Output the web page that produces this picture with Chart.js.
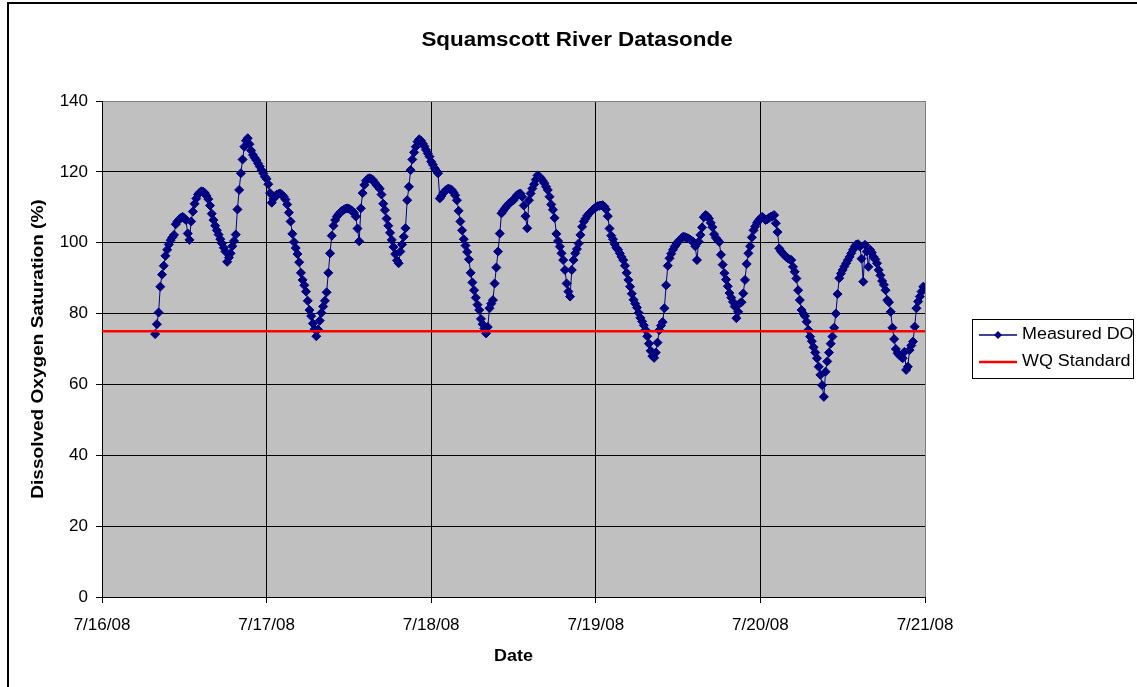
<!DOCTYPE html>
<html>
<head>
<meta charset="utf-8">
<script src="https://cdn.jsdelivr.net/npm/chart.js@4.4.1/dist/chart.umd.min.js"></script>
<style>
  html, body { margin: 0; padding: 0; background: #fff; }
  #wrap { width: 1137px; height: 687px; position: relative; }
</style>
</head>
<body>
<div id="wrap"><canvas id="chart" width="1137" height="687"></canvas></div>
<script>
// Axis labels
const dayLabels = ['7/16/08', '7/17/08', '7/18/08', '7/19/08', '7/20/08', '7/21/08'];
const yTickStep = 20;

// Datasonde logging: first reading 7/16/08 07:45, one reading every 15 minutes
const startHour = 7.75;
const stepHours = 0.25;

// Dissolved oxygen saturation (%) per day
const do0716 = [
  74.2, 77.0, 80.3, 87.6, 91.0, 93.5, 96.3, 98.0, 99.5, 100.7, 101.5, 102.2, 105.2, 106.0, 106.6, 107.0,
  107.3, 106.9, 106.4, 102.6, 100.8, 106.0, 108.8, 111.0, 112.5, 113.6, 114.2, 114.5, 114.4, 114.0, 113.2, 112.3,
  110.5, 108.2, 106.4, 104.8, 103.5, 102.3, 101.0, 99.8, 98.6, 97.5, 94.6, 95.8, 97.0, 99.0, 100.5, 102.3,
  109.4, 114.9, 119.6, 123.5, 127.1, 128.8, 129.5, 127.8, 126.0, 124.8, 124.0, 123.3, 122.4, 121.5, 120.5, 119.6,
  118.6
];
const do0717 = [
  118.0, 116.5, 114.0, 111.3, 112.4, 113.2, 113.6, 113.8, 113.9, 113.5, 113.0, 112.2, 110.8, 108.5, 106.0, 102.5,
  100.2, 98.5, 96.8, 94.5, 91.5, 89.5, 88.0, 86.2, 83.6, 81.0, 79.3, 77.2, 75.6, 73.6, 75.5, 78.0,
  80.2, 82.0, 83.6, 86.0, 91.5, 97.0, 102.0, 104.8, 106.4, 107.4, 108.0, 108.6, 109.0, 109.3, 109.6, 109.7,
  109.6, 109.3, 108.9, 108.4, 107.4, 104.0, 100.4, 109.7, 114.0, 116.3, 117.5, 118.0, 118.2, 118.0, 117.7, 117.0,
  116.3, 115.8, 115.2, 113.6, 111.0, 109.2, 106.8, 104.8, 102.8, 100.8, 98.8, 96.8, 95.0, 94.2, 97.5, 99.5,
  101.7, 104.1, 112.0, 115.8, 120.5, 123.5, 125.5, 127.1, 128.5, 129.2, 128.8, 128.0, 127.2, 126.2, 125.2, 124.3
];
const do0718 = [
  122.9, 122.0, 121.0, 120.3, 119.6, 112.5, 113.2, 114.0, 114.5, 115.0, 115.3, 115.1, 114.9, 114.2, 113.4, 112.0,
  109.0, 106.0, 103.5, 101.0, 99.2, 97.4, 95.3, 91.5, 88.8, 86.6, 84.5, 82.5, 81.0, 78.5, 77.0, 75.8,
  74.4, 76.2, 81.5, 82.8, 83.8, 88.5, 93.0, 97.5, 102.6, 108.3, 109.0, 109.7, 110.3, 110.9, 111.3, 111.7,
  112.0, 112.7, 113.4, 113.7, 113.9, 113.0, 110.5, 107.5, 104.1, 112.0, 113.9, 115.3, 116.5, 117.8, 119.0, 118.7,
  118.2, 117.5, 116.8, 115.8, 114.9, 113.0, 110.8, 109.3, 107.0, 102.5, 100.5, 98.9, 97.0, 95.1, 92.3, 88.5,
  86.2, 84.8, 92.3, 95.1, 97.0, 98.2, 99.8, 102.2, 104.5, 106.0, 106.8, 107.6, 108.2, 108.7, 109.2, 109.6
];
const do0719 = [
  110.0, 110.3, 110.4, 110.5, 110.6, 110.2, 109.4, 107.5, 104.0, 102.0, 101.0, 99.6, 98.6, 98.0, 97.0, 96.0,
  95.1, 93.5, 91.5, 89.5, 87.6, 85.6, 83.9, 82.8, 81.7, 80.2, 78.8, 77.8, 76.7, 75.4, 73.6, 71.5,
  69.5, 68.0, 67.5, 69.0, 71.8, 75.3, 76.6, 77.6, 81.5, 88.0, 93.5, 95.6, 96.9, 98.0, 98.9, 99.6,
  100.3, 100.8, 101.3, 101.7, 101.6, 101.4, 101.2, 100.9, 100.5, 100.2, 99.0, 95.1, 100.3, 102.2, 104.3, 107.2,
  107.8, 107.5, 106.8, 105.6, 104.4, 102.4, 101.4, 100.8, 100.2, 96.6, 93.8, 91.4, 89.6, 87.7, 85.8, 84.5,
  83.3, 82.0, 78.7, 80.5, 82.9, 83.2, 85.7, 89.5, 94.0, 97.0, 99.0, 101.5, 103.5, 104.6, 105.6, 106.3
];
const do0720 = [
  106.8, 107.3, 106.9, 106.4, 106.6, 107.0, 107.3, 107.5, 107.8, 105.5, 103.0, 98.4, 97.6, 97.0, 96.5, 96.0,
  95.6, 95.3, 95.1, 93.2, 91.8, 89.9, 86.6, 83.8, 81.0, 80.0, 79.3, 77.7, 75.4, 73.5, 72.2, 70.5,
  69.0, 67.4, 65.0, 62.7, 59.8, 56.5, 63.6, 66.5, 69.0, 71.5, 73.5, 76.0, 80.0, 85.5, 90.0, 91.3,
  92.3, 93.3, 94.2, 95.1, 96.0, 97.0, 98.0, 98.9, 99.5, 99.6, 98.9, 95.5, 89.0, 99.4, 97.5, 93.2,
  98.0, 97.2, 96.0, 95.3, 94.2, 92.3, 90.8, 89.2, 88.1, 86.6, 83.8, 83.2, 80.5, 76.0, 72.8, 70.0,
  68.8, 68.3, 67.8, 67.4, 69.2, 64.1, 65.0, 69.7, 71.0, 72.1, 76.3, 81.5, 83.4, 84.8, 86.2, 87.6
];

// Water quality standard for DO saturation (%)
const wqStandard = 75;

const measuredDO = [].concat(do0716, do0717, do0718, do0719, do0720);
// x in days since 7/16/08 00:00
const doPoints = measuredDO.map((v, i) => ({ x: (startHour + i * stepHours) / 24, y: v }));
const wqPoints = [{ x: 0, y: wqStandard }, { x: dayLabels.length - 1, y: wqStandard }];

const FONT = "'Liberation Sans', Arial, Helvetica, sans-serif";
const NAVY = '#000080';
const RED = '#FF0000';
const TEXT_WIDEN = 1.12;   // text is set slightly wide

// draws text widened along its baseline about its anchor
function wideText(ctx, text, x, y, align) {
  ctx.save();
  ctx.translate(x, y);
  ctx.scale(TEXT_WIDEN, 1);
  ctx.textAlign = align;
  ctx.fillText(text, 0, 0);
  ctx.restore();
}

// Plot background, titles, legend and outer frame
const decor = {
  id: 'decor',
  beforeDraw(chart) {
    const { ctx, chartArea: a } = chart;
    ctx.save();
    ctx.fillStyle = '#FFFFFF';
    ctx.fillRect(0, 0, chart.width, chart.height);
    ctx.fillStyle = '#C0C0C0';
    ctx.fillRect(a.left, a.top, a.right - a.left, a.bottom - a.top);
    ctx.restore();
  },
  afterDraw(chart) {
    const { ctx, chartArea: a } = chart;
    ctx.save();
    ctx.fillStyle = '#000';
    ctx.textBaseline = 'middle';

    // chart title
    ctx.font = 'bold 20px ' + FONT;
    wideText(ctx, 'Squamscott River Datasonde', 577, 40, 'center');

    // axis titles
    ctx.font = 'bold 16px ' + FONT;
    wideText(ctx, 'Date', (a.left + a.right) / 2, 657, 'center');
    ctx.save();
    ctx.translate(38, (a.top + a.bottom) / 2);
    ctx.rotate(-Math.PI / 2);
    ctx.font = 'bold 17px ' + FONT;
    wideText(ctx, 'Dissolved Oxygen Saturation (%)', 0, 0, 'center');
    ctx.restore();

    // legend
    const lx = 972, ly = 319, lw = 161, lh = 59;
    ctx.fillStyle = '#FFFFFF';
    ctx.fillRect(lx, ly, lw, lh);
    ctx.strokeStyle = '#000';
    ctx.lineWidth = 1;
    ctx.strokeRect(lx + 0.5, ly + 0.5, lw, lh);
    const ds = chart.data.datasets;
    const rows = [335, 362];
    ds.forEach((d, k) => {
      const y = rows[k];
      ctx.strokeStyle = d.borderColor;
      ctx.lineWidth = Math.max(d.borderWidth, 1.5);
      ctx.beginPath();
      ctx.moveTo(979, y);
      ctx.lineTo(1017, y);
      ctx.stroke();
      if (d.pointRadius > 0) {
        const r = 4;
        ctx.fillStyle = d.pointBackgroundColor;
        ctx.beginPath();
        ctx.moveTo(998, y - r);
        ctx.lineTo(998 + r, y);
        ctx.lineTo(998, y + r);
        ctx.lineTo(998 - r, y);
        ctx.closePath();
        ctx.fill();
      }
      ctx.fillStyle = '#000';
      ctx.font = '16px ' + FONT;
      wideText(ctx, d.label, 1022, y, 'left');
    });

    // outer frame (left and top)
    ctx.fillStyle = '#000';
    ctx.fillRect(7, 2, 2, chart.height - 2);
    ctx.fillRect(7, 2, chart.width - 7, 2);
    ctx.restore();
  }
};

new Chart(document.getElementById('chart'), {
  type: 'line',
  data: {
    datasets: [
      {
        label: 'Measured DO',
        data: doPoints,
        borderColor: NAVY,
        backgroundColor: NAVY,
        borderWidth: 1,
        pointStyle: 'rectRot',
        pointRadius: 4.5,
        pointBorderWidth: 1,
        pointBackgroundColor: NAVY,
        pointBorderColor: NAVY,
        tension: 0,
        order: 1
      },
      {
        label: 'WQ Standard',
        data: wqPoints,
        borderColor: RED,
        backgroundColor: RED,
        borderWidth: 2.5,
        pointRadius: 0,
        tension: 0,
        order: 0
      }
    ]
  },
  options: {
    responsive: false,
    animation: false,
    devicePixelRatio: 1,
    layout: { padding: { left: 0, top: 101, right: 212, bottom: 0 } },
    plugins: {
      legend: { display: false },
      title: { display: false },
      tooltip: { enabled: false }
    },
    scales: {
      x: {
        type: 'linear',
        min: 0,
        max: dayLabels.length - 1,
        afterFit(scale) { scale.height = 90; },
        ticks: {
          stepSize: 1,
          autoSkip: false,
          maxRotation: 0,
          padding: 12,
          color: '#000',
          font: { family: FONT, size: 17 },
          callback: (v) => dayLabels[v]
        },
        grid: {
          color: (c) => (c.tick && c.tick.value === dayLabels.length - 1 ? '#808080' : '#000'),
          tickColor: '#000',
          tickLength: 6,
          lineWidth: 1
        },
        border: { display: true, color: '#000', width: 1 }
      },
      y: {
        min: 0,
        max: 140,
        afterFit(scale) { scale.width = 102; },
        ticks: {
          stepSize: yTickStep,
          padding: 8,
          color: '#000',
          font: { family: FONT, size: 17 }
        },
        grid: {
          color: (c) => (c.tick && c.tick.value === 140 ? '#808080' : '#000'),
          tickColor: '#000',
          tickLength: 6,
          lineWidth: 1
        },
        border: { display: true, color: '#000', width: 1 }
      }
    }
  },
  plugins: [decor]
});
</script>
</body>
</html>
